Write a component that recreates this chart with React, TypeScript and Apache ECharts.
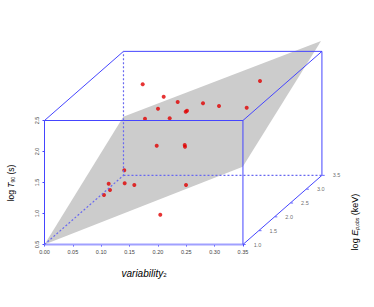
import React, { useEffect, useRef } from "react";
import * as echarts from "echarts";

const xTicks = [0, 0.05, 0.1, 0.15, 0.2, 0.25, 0.3, 0.35];
const yTicks = [0.5, 1.0, 1.5, 2.0, 2.5];
const zTicks = [1.0, 1.5, 2.0, 2.5, 3.0, 3.5];

// projected positions on the front face scale: [variability2, log T90 + depth shift]
const points = [
  [0.1732, 3.084], [0.2102, 2.884], [0.2349, 2.798], [0.2795, 2.777], [0.3078, 2.734],
  [0.3566, 2.706], [0.3801, 3.137], [0.2002, 2.69], [0.2513, 2.658], [0.249, 2.642],
  [0.1772, 2.529], [0.2208, 2.535], [0.1979, 2.094], [0.2473, 2.105], [0.2478, 2.077],
  [0.1407, 1.697], [0.1132, 1.481], [0.1155, 1.379], [0.1049, 1.298], [0.1414, 1.487],
  [0.1584, 1.46], [0.2496, 1.46], [0.2042, 0.981],
];
const plane = [[0, 0.5], [0.3496, 1.755], [0.4877, 3.782], [0.139, 2.561]];

const x0 = 0, x1 = 0.35, y0 = 0.5, y1 = 2.5;
const depthX = 0.1393, depthY = 1.115;
const zMin = 1, zMax = 3.5;

const solidEdges = [
  [[x1, y0], [x1, y1], [x0, y1], [x0, y0]],
  [[x0, y1], [x0 + depthX, y1 + depthY], [x1 + depthX, y1 + depthY], [x1, y1]],
  [[x1 + depthX, y1 + depthY], [x1 + depthX, y0 + depthY], [x1, y0]],
];
const bottomEdge = [[x0, y0], [x1, y0]];
const dashedEdges = [
  [[x0, y0], [x0 + depthX, y0 + depthY], [x0 + depthX, y1 + depthY]],
  [[x0 + depthX, y0 + depthY], [x1 + depthX, y0 + depthY]],
];
const zPos = (z: number) => {
  const f = (z - zMin) / (zMax - zMin);
  return [x1 + depthX * f, y0 + depthY * f];
};

const BLUE = "#4545ff";
const TEXT = "#444444";
const FONT = "'Liberation Sans', Arial, sans-serif";

export default function App() {
  const ref = useRef<HTMLDivElement>(null);
  useEffect(() => {
    document.body.style.margin = "0";
    const chart = echarts.init(ref.current!, null, { renderer: "svg" });
    const edge = (d: number[][], color: string, width: number, dash?: number[]) => ({
      type: "line",
      data: d,
      showSymbol: false,
      silent: true,
      clip: false,
      lineStyle: { color, width, type: dash ? (dash as any) : "solid" },
    });
    chart.setOption({
      animation: false,
      backgroundColor: "#ffffff",
      grid: { left: 44.5, top: 27.5, width: 283.5, height: 217, containLabel: false },
      xAxis: {
        type: "value", min: 0, max: 0.5,
        splitLine: { show: false },
        axisLine: { show: false },
        axisTick: { show: true, customValues: xTicks, length: 2, lineStyle: { color: BLUE } },
        axisLabel: {
          customValues: xTicks, formatter: (v: number) => v.toFixed(2),
          fontSize: 5.5, color: TEXT, fontFamily: FONT, margin: 4,
        },
      },
      yAxis: {
        type: "value", min: 0.5, max: 4,
        splitLine: { show: false },
        axisLine: { show: false },
        axisTick: { show: true, customValues: yTicks, length: 2, lineStyle: { color: BLUE } },
        axisLabel: {
          customValues: yTicks, formatter: (v: number) => v.toFixed(1), rotate: 90,
          fontSize: 5.5, color: TEXT, fontFamily: FONT, margin: 5,
        },
      },
      graphic: [
        {
          type: "text", x: 144, y: 273,
          style: {
            text: "{i|variability}{s|2}", align: "center", verticalAlign: "middle",
            rich: {
              i: { fontSize: 10, fontStyle: "italic", fontFamily: FONT, color: TEXT },
              s: { fontSize: 6, fontFamily: FONT, color: TEXT, verticalAlign: "bottom", padding: [4, 0, 0, 0] },
            },
          },
        },
        {
          type: "text", x: 11, y: 183, rotation: Math.PI / 2,
          style: {
            text: "{n|log }{i|T}{s|90}{n| (s)}", align: "center", verticalAlign: "middle",
            rich: {
              n: { fontSize: 8.5, fontFamily: FONT, color: TEXT },
              i: { fontSize: 8.5, fontStyle: "italic", fontFamily: FONT, color: TEXT },
              s: { fontSize: 5, fontFamily: FONT, color: TEXT, padding: [4, 0, 0, 0] },
            },
          },
        },
        {
          type: "text", x: 355, y: 222, rotation: Math.PI / 2,
          style: {
            text: "{n|log }{i|E}{s|p,obs}{n| (keV)}", align: "center", verticalAlign: "middle",
            rich: {
              n: { fontSize: 9, fontFamily: FONT, color: TEXT },
              i: { fontSize: 9, fontStyle: "italic", fontFamily: FONT, color: TEXT },
              s: { fontSize: 5, fontStyle: "italic", fontFamily: FONT, color: TEXT, padding: [4, 0, 0, 0] },
            },
          },
        },
      ],
      series: [
        {
          type: "custom",
          silent: true,
          clip: false,
          data: [plane[0]],
          renderItem: (_p: any, api: any) => ({
            type: "polygon",
            shape: { points: plane.map((c) => api.coord(c)) },
            style: { fill: "#cccccc", stroke: "none" },
          }),
        },
        edge(bottomEdge, "#a0a0ff", 2),
        ...solidEdges.map((d) => edge(d, BLUE, 1)),
        ...dashedEdges.map((d) => edge(d, "#6868f0", 1.2, [2, 2])),
        {
          type: "scatter",
          silent: true,
          clip: false,
          symbol: "rect",
          symbolSize: [2.5, 1],
          symbolOffset: [1.5, 0],
          itemStyle: { color: BLUE },
          data: zTicks.map((z) => ({ value: zPos(z), name: z.toFixed(1) })),
          label: {
            show: true, position: "right", distance: 8,
            formatter: (p: any) => p.name,
            fontSize: 5.5, color: TEXT, fontFamily: FONT,
          },
        },
        {
          type: "scatter",
          silent: true,
          clip: false,
          symbolSize: 4,
          itemStyle: { color: "#e00000" },
          data: points,
        },
      ],
    });
    return () => chart.dispose();
  }, []);
  return <div ref={ref} style={{ position: "fixed", left: 0, top: 0, width: 374, height: 307 }} />;
}
